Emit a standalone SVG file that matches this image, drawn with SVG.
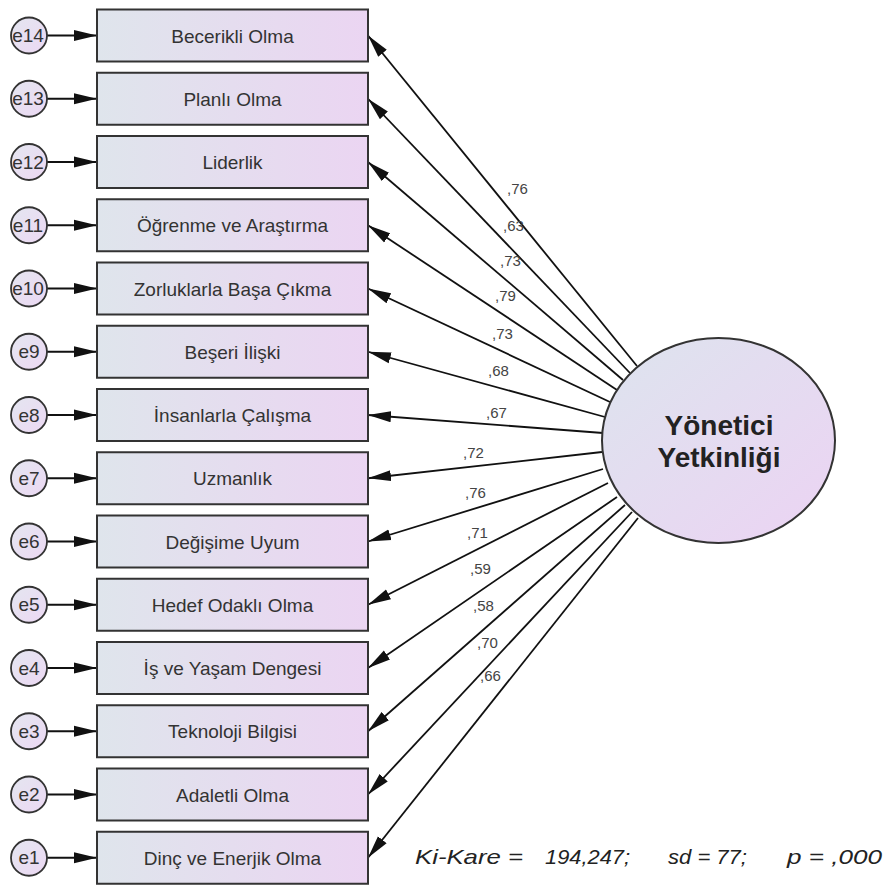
<svg xmlns="http://www.w3.org/2000/svg" width="887" height="886" viewBox="0 0 887 886">
<defs>
<linearGradient id="gBox" x1="0" y1="0" x2="1" y2="0">
<stop offset="0" stop-color="#dfe5ec"/>
<stop offset="1" stop-color="#ebd5f2"/>
</linearGradient>
<linearGradient id="gEll" x1="0" y1="0" x2="1" y2="1">
<stop offset="0" stop-color="#dde4ee"/>
<stop offset="1" stop-color="#ecd3f3"/>
</linearGradient>
<linearGradient id="gErr" x1="0" y1="0" x2="1" y2="1">
<stop offset="0" stop-color="#e4e6f0"/>
<stop offset="1" stop-color="#ecd8f3"/>
</linearGradient>
<marker id="ah" markerUnits="userSpaceOnUse" markerWidth="24" markerHeight="12" refX="23" refY="6" orient="auto">
<path d="M0,0.5 L23,6 L0,11.5 z" fill="#111"/>
</marker>
</defs>
<style>
.box{fill:url(#gBox);stroke:#333;stroke-width:2}
.err{fill:url(#gErr);stroke:#333;stroke-width:1.8}
.bt{font-family:"Liberation Sans",Arial,sans-serif;font-size:19px;fill:#333;text-anchor:middle}
.et{font-family:"Liberation Sans",Arial,sans-serif;font-size:19px;fill:#333;text-anchor:middle}
.lt{font-family:"Liberation Sans",Arial,sans-serif;font-size:15px;fill:#444}
.ct{font-family:"Liberation Sans",Arial,sans-serif;font-size:28px;font-weight:bold;fill:#222;text-anchor:middle}
.fit{font-family:"Liberation Sans",Arial,sans-serif;font-size:21px;font-style:italic;fill:#222}
.cn line{stroke:#111;stroke-width:1.8;marker-end:url(#ah)}
</style>

<g id="connectors" class="cn">
<line x1="47" y1="35.5" x2="97" y2="35.5"/>
<line x1="47" y1="98.75" x2="97" y2="98.75"/>
<line x1="47" y1="162" x2="97" y2="162"/>
<line x1="47" y1="225.25" x2="97" y2="225.25"/>
<line x1="47" y1="288.5" x2="97" y2="288.5"/>
<line x1="47" y1="351.75" x2="97" y2="351.75"/>
<line x1="47" y1="415" x2="97" y2="415"/>
<line x1="47" y1="478.25" x2="97" y2="478.25"/>
<line x1="47" y1="541.5" x2="97" y2="541.5"/>
<line x1="47" y1="604.75" x2="97" y2="604.75"/>
<line x1="47" y1="668" x2="97" y2="668"/>
<line x1="47" y1="731.25" x2="97" y2="731.25"/>
<line x1="47" y1="794.5" x2="97" y2="794.5"/>
<line x1="47" y1="857.75" x2="97" y2="857.75"/>
<line x1="637" y1="366" x2="368" y2="35.5"/>
<line x1="630" y1="373" x2="368" y2="98.75"/>
<line x1="623" y1="380" x2="368" y2="162"/>
<line x1="617" y1="390" x2="368" y2="225.25"/>
<line x1="610" y1="402" x2="368" y2="288.5"/>
<line x1="605" y1="417" x2="368" y2="351.75"/>
<line x1="603" y1="433" x2="368" y2="415"/>
<line x1="602" y1="452" x2="368" y2="478.25"/>
<line x1="603" y1="469" x2="368" y2="541.5"/>
<line x1="608" y1="483" x2="368" y2="604.75"/>
<line x1="617" y1="497" x2="368" y2="668"/>
<line x1="625" y1="505" x2="368" y2="731.25"/>
<line x1="632" y1="512" x2="368" y2="794.5"/>
<line x1="638" y1="518" x2="368" y2="857.75"/>
</g>

<g id="labels">
<text class="lt" x="507" y="194">,76</text>
<text class="lt" x="503" y="231">,63</text>
<text class="lt" x="500" y="266">,73</text>
<text class="lt" x="495" y="301">,79</text>
<text class="lt" x="492" y="339">,73</text>
<text class="lt" x="488" y="376">,68</text>
<text class="lt" x="486" y="418">,67</text>
<text class="lt" x="463" y="458">,72</text>
<text class="lt" x="465" y="498">,76</text>
<text class="lt" x="467" y="538">,71</text>
<text class="lt" x="470" y="574">,59</text>
<text class="lt" x="473" y="611">,58</text>
<text class="lt" x="477" y="648">,70</text>
<text class="lt" x="480" y="681">,66</text>
</g>

<g id="latent">
<ellipse cx="718.5" cy="440.5" rx="116.5" ry="102.5" fill="url(#gEll)" stroke="#333" stroke-width="2"/>
<text class="ct" x="719" y="435">Yönetici</text>
<text class="ct" x="719" y="467">Yetkinliği</text>
</g>

<g id="v1"><rect class="box" x="97" y="9.5" width="271" height="52"/><text class="bt" x="232.5" y="42.5">Becerikli Olma</text></g>
<g id="v2"><rect class="box" x="97" y="72.75" width="271" height="52"/><text class="bt" x="232.5" y="105.75">Planlı Olma</text></g>
<g id="v3"><rect class="box" x="97" y="136" width="271" height="52"/><text class="bt" x="232.5" y="169">Liderlik</text></g>
<g id="v4"><rect class="box" x="97" y="199.25" width="271" height="52"/><text class="bt" x="232.5" y="232.25">Öğrenme ve Araştırma</text></g>
<g id="v5"><rect class="box" x="97" y="262.5" width="271" height="52"/><text class="bt" x="232.5" y="295.5">Zorluklarla Başa Çıkma</text></g>
<g id="v6"><rect class="box" x="97" y="325.75" width="271" height="52"/><text class="bt" x="232.5" y="358.75">Beşeri İlişki</text></g>
<g id="v7"><rect class="box" x="97" y="389" width="271" height="52"/><text class="bt" x="232.5" y="422">İnsanlarla Çalışma</text></g>
<g id="v8"><rect class="box" x="97" y="452.25" width="271" height="52"/><text class="bt" x="232.5" y="485.25">Uzmanlık</text></g>
<g id="v9"><rect class="box" x="97" y="515.5" width="271" height="52"/><text class="bt" x="232.5" y="548.5">Değişime Uyum</text></g>
<g id="v10"><rect class="box" x="97" y="578.75" width="271" height="52"/><text class="bt" x="232.5" y="611.75">Hedef Odaklı Olma</text></g>
<g id="v11"><rect class="box" x="97" y="642" width="271" height="52"/><text class="bt" x="232.5" y="675">İş ve Yaşam Dengesi</text></g>
<g id="v12"><rect class="box" x="97" y="705.25" width="271" height="52"/><text class="bt" x="232.5" y="738.25">Teknoloji Bilgisi</text></g>
<g id="v13"><rect class="box" x="97" y="768.5" width="271" height="52"/><text class="bt" x="232.5" y="801.5">Adaletli Olma</text></g>
<g id="v14"><rect class="box" x="97" y="831.75" width="271" height="52"/><text class="bt" x="232.5" y="864.75">Dinç ve Enerjik Olma</text></g>

<g id="e14"><circle class="err" cx="29" cy="35.5" r="18"/><text class="et" x="28" y="42">e14</text></g>
<g id="e13"><circle class="err" cx="29" cy="98.75" r="18"/><text class="et" x="28" y="105.25">e13</text></g>
<g id="e12"><circle class="err" cx="29" cy="162" r="18"/><text class="et" x="28" y="168.5">e12</text></g>
<g id="e11"><circle class="err" cx="29" cy="225.25" r="18"/><text class="et" x="28" y="231.75">e11</text></g>
<g id="e10"><circle class="err" cx="29" cy="288.5" r="18"/><text class="et" x="28" y="295">e10</text></g>
<g id="e9"><circle class="err" cx="29" cy="351.75" r="18"/><text class="et" x="29" y="358.25">e9</text></g>
<g id="e8"><circle class="err" cx="29" cy="415" r="18"/><text class="et" x="29" y="421.5">e8</text></g>
<g id="e7"><circle class="err" cx="29" cy="478.25" r="18"/><text class="et" x="29" y="484.75">e7</text></g>
<g id="e6"><circle class="err" cx="29" cy="541.5" r="18"/><text class="et" x="29" y="548">e6</text></g>
<g id="e5"><circle class="err" cx="29" cy="604.75" r="18"/><text class="et" x="29" y="611.25">e5</text></g>
<g id="e4"><circle class="err" cx="29" cy="668" r="18"/><text class="et" x="29" y="674.5">e4</text></g>
<g id="e3"><circle class="err" cx="29" cy="731.25" r="18"/><text class="et" x="29" y="737.75">e3</text></g>
<g id="e2"><circle class="err" cx="29" cy="794.5" r="18"/><text class="et" x="29" y="801">e2</text></g>
<g id="e1"><circle class="err" cx="29" cy="857.75" r="18"/><text class="et" x="29" y="864.25">e1</text></g>

<g id="fit">
<text class="fit" x="415" y="864" textLength="108" lengthAdjust="spacingAndGlyphs">Ki-Kare =</text>
<text class="fit" x="545" y="864" textLength="85" lengthAdjust="spacingAndGlyphs">194,247;</text>
<text class="fit" x="668" y="864" textLength="79" lengthAdjust="spacingAndGlyphs">sd = 77;</text>
<text class="fit" x="787" y="864" textLength="95" lengthAdjust="spacingAndGlyphs">p = ,000</text>
</g>
</svg>
